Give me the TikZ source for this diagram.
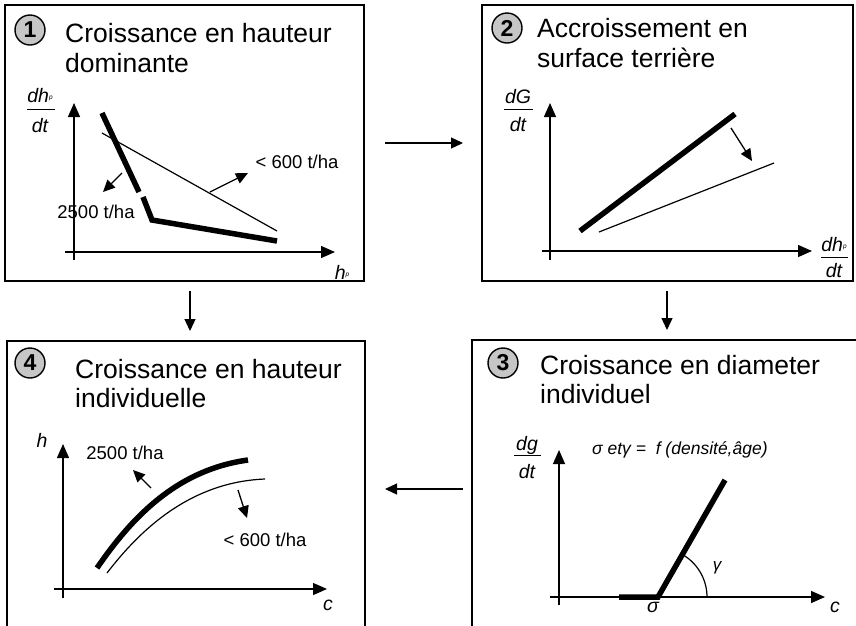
\documentclass[tikz,border=0pt]{standalone}
\usepackage{fontspec}
\setmainfont{Liberation Sans}
\usetikzlibrary{arrows.meta,calc}
\newcommand{\hsub}{\textit{h}{\fontsize{6.5}{6.5}\selectfont\raisebox{3pt}{\textit{p}}}}
\begin{document}
\begin{tikzpicture}[x=1pt,y=-1pt,
  panel/.style={draw, line width=1.6pt, inner sep=0pt, outer sep=0pt},
  conn/.style={line width=1.3pt,-{Triangle[length=12pt,width=11pt]}},
  axis/.style={line width=1.3pt,-{Triangle[length=14pt,width=12pt]}},
  fracrule/.style={line width=0.9pt},
  thickline/.style={line width=5.5pt},
  thinline/.style={line width=1.2pt},
  smallarrow/.style={line width=1.3pt,-{Triangle[length=12pt,width=11pt]}},
  title/.style={anchor=base west, inner sep=0pt, font=\fontsize{26.5}{30}\selectfont},
  num/.style={circle, draw, line width=1.4pt, fill=gray!45, minimum size=30pt, inner sep=0pt, font=\fontsize{23}{23}\selectfont\bfseries},
  lab/.style={inner sep=0pt, font=\fontsize{18.5}{20}\selectfont},
  axlab/.style={inner sep=0pt, font=\fontsize{19.5}{21}\selectfont\itshape},
]
\useasboundingbox (0,0) rectangle (856,625);
\clip (0,0) rectangle (856,625);

% panels
\node[panel, minimum width=359pt, minimum height=276pt] (b1) at (184.5,143) {};
\node[panel, minimum width=371pt, minimum height=276pt] (b2) at (667.5,143) {};
\node[panel, minimum width=358pt, minimum height=299pt] (b4) at (186,490.5) {};
\node[panel, minimum width=408pt, minimum height=300pt] (b3) at (676,490) {};

% connectors
\draw[conn] ($(b1.east)+(21,0)$) -- ($(b2.west)+(-19,0)$);
\draw[conn] ($(b1.south)+(5.5,10)$) -- ($(b4.north)+(4,-10)$);
\draw[conn] ($(b2.south)+(-0.5,10)$) -- ($(b3.north)+(-9,-10)$);
\draw[conn] ($(b3.west)+(-9,-1)$) -- ($(b4.east)+(20,-1.5)$);

% number circles
\node[num] (c1) at (30,30) {1};
\node[num] (c2) at (507,28) {2};
\node[num] (c4) at (30,363) {4};
\node[num] (c3) at (503,363) {3};

% titles
\node[title] (t1a) at (65,42) {Croissance en hauteur};
\node[title] (t1b) at (65,72) {dominante};
\node[title] (t2a) at (537,37) {Accroissement en};
\node[title] (t2b) at (537,67) {surface terrière};
\node[title] (t4a) at (75,378) {Croissance en hauteur};
\node[title] (t4b) at (75,407) {individuelle};
\node[title] (t3a) at (540,374) {Croissance en diameter};
\node[title] (t3b) at (540,403) {individuel};

% ---------- panel 1 ----------
\draw[axis] (74,260) -- (74,103);
\draw[axis] (65,252) -- (335,252);
\node[axlab] (p1n) at (40,96) {d\hsub};
\draw[fracrule] (27,109) -- (55,109);
\node[axlab] (p1d) at (40,126) {dt};
\node[axlab] (p1x) at (342,272) {\hsub};
\draw[thinline] (102,133) -- (277,231);
\draw[thickline] (102,113) -- (139,192);
\draw[thickline] (143,197) -- (152,220) -- (277,241);
\draw[smallarrow] (210,192) -- (248,173);
\draw[smallarrow] (122,173) -- (103,192);
\node[lab] (l1a) at (297,162) {< 600 t/ha};
\node[lab] (l1b) at (96,212) {2500 t/ha};

% ---------- panel 2 ----------
\draw[axis] (550,260) -- (550,103);
\draw[axis] (542,251) -- (812,251);
\node[axlab] (p2n) at (518,97) {dG};
\draw[fracrule] (504,109) -- (533,109);
\node[axlab] (p2d) at (518,125) {dt};
\node[axlab] (p2xn) at (834,245) {d\hsub};
\draw[fracrule] (821,257) -- (848,257);
\node[axlab] (p2xd) at (834,271) {dt};
\draw[thickline] (580,231) -- (735,114);
\draw[thinline] (599,232) -- (774,163);
\draw[smallarrow] (731,128) -- (752,161);

% ---------- panel 4 ----------
\draw[axis] (63,598) -- (63,444);
\draw[axis] (54,589) -- (327,589);
\node[axlab] (p4y) at (42,440) {h};
\node[axlab] (p4x) at (328,605) {c};
\draw[thickline] (97,568) .. controls (130,520) and (175,470) .. (248,460);
\draw[thinline] (107,573) .. controls (140,530) and (190,482) .. (265,479);
\draw[smallarrow] (151,488) -- (133,470);
\draw[smallarrow] (238,490) -- (247,518);
\node[lab] (l4a) at (125,453) {2500 t/ha};
\node[lab] (l4b) at (265,540) {< 600 t/ha};

% ---------- panel 3 ----------
\draw[axis] (559,605) -- (559,450);
\draw[axis] (550,597) -- (825,597);
\node[axlab] (p3x) at (835,607) {c};
\node[axlab] (p3n) at (527,445) {dg};
\draw[fracrule] (514,455) -- (541,455);
\node[axlab] (p3d) at (527,472) {dt};
\node[axlab, anchor=west, font=\fontsize{17.5}{19}\selectfont\itshape] (p3f) at (592,450) {σ etγ = \ f (densité,âge)};
\node[axlab] (p3s) at (653,607) {σ};
\draw[thinline] (707,597) arc[start angle=0, end angle=60, radius=49pt];
\draw[thickline] (619,597) -- (658,597) -- (725,480);
\node[axlab, font=\fontsize{17}{19}\selectfont\itshape] (p3g) at (717,568) {γ};
\end{tikzpicture}
\end{document}
